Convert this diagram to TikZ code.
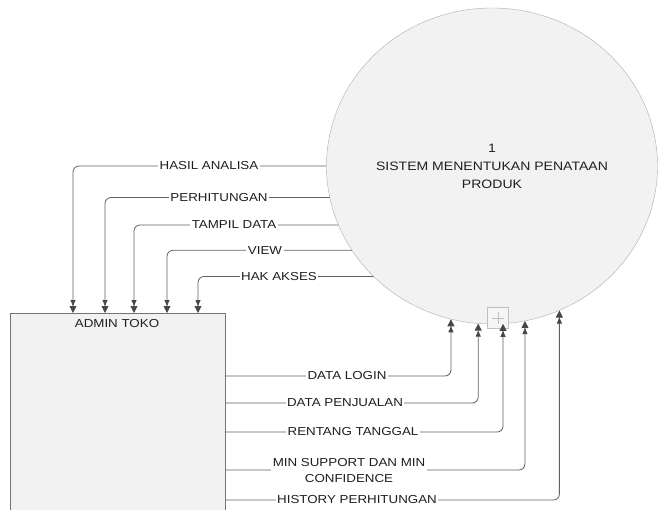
\documentclass[tikz,border=0pt]{standalone}
\usepackage{fontspec}
\setmainfont{Liberation Sans}[FakeStretch=1.15]
\usetikzlibrary{arrows.meta,shapes.geometric}

\begin{document}
\begin{tikzpicture}[x=1pt,y=-1pt,
  flow/.style={draw=black!62, line width=0.8pt, rounded corners=6pt,
    -{Triangle[length=6pt,width=5pt,color=black!72]Triangle[length=7pt,width=7pt,color=black!72]}},
  lbl/.style={fill=white, inner sep=1.5pt, text=black!88, align=center,
    font=\fontsize{11.6}{16}\selectfont},
  process/.style={ellipse, inner sep=0pt, draw=black!32, fill=black!5,
    minimum width=331pt, minimum height=316pt, align=center, text=black!88,
    font=\fontsize{12.2}{18}\selectfont},
  entity/.style={rectangle, draw=black!55, fill=black!5, anchor=north west,
    minimum width=215pt, minimum height=215pt},
]
\clip (0,0) rectangle (660,510);

% process and external entity
\node[process] (sys) at (492,166) {1\\SISTEM MENENTUKAN PENATAAN\\PRODUK};
\node[entity] (admin) at (10,313) {};
\node[lbl, fill=none] (admint) at (117,324) {ADMIN TOKO};

% expand marker of the process
\node[draw=black!25, fill=black!4, minimum size=21pt, inner sep=0pt] (plus) at (498,318) {};
\draw[black!25, line width=0.6pt] (plus.center) +(-6,0) -- +(6,0);
\draw[black!25, line width=0.6pt] (plus.center) +(0,-6) -- +(0,6);

% flows from the process to the entity
\draw[flow] (sys.180) -| (admin.north -| 73,0);
\draw[flow] (sys.191.9) -| (admin.north -| 105,0);
\draw[flow] (sys.201.1) -| (admin.north -| 134,0);
\draw[flow] (sys.211) -| (admin.north -| 167,0);
\draw[flow] (sys.223.5) -| (admin.north -| 198,0);
\node[lbl] (l1) at (209,0 |- sys.180) {HASIL ANALISA};
\node[lbl] (l2) at (219,0 |- sys.191.9) {PERHITUNGAN};
\node[lbl] (l3) at (234,0 |- sys.201.1) {TAMPIL DATA};
\node[lbl] (l4) at (265,0 |- sys.211) {VIEW};
\node[lbl] (l5) at (279,0 |- sys.223.5) {HAK AKSES};

% flows from the entity to the process
\draw[flow] (admin.east |- 0,376) -| (sys.255);
\draw[flow] (admin.east |- 0,403) -| (sys.265.3);
\draw[flow] (admin.east |- 0,432) -| (sys.274);
\draw[flow] (admin.east |- 0,470) -| (sys.282.8);
\draw[flow] (admin.east |- 0,500) -| (sys.295.3);
\node[lbl] (r1) at (347,376) {DATA LOGIN};
\node[lbl] (r2) at (345,403) {DATA PENJUALAN};
\node[lbl] (r3) at (353,432) {RENTANG TANGGAL};
\node[lbl] (r4) at (349,471) {MIN SUPPORT DAN MIN\\CONFIDENCE};
\node[lbl] (r5) at (357,500) {HISTORY PERHITUNGAN};
\end{tikzpicture}
\end{document}
